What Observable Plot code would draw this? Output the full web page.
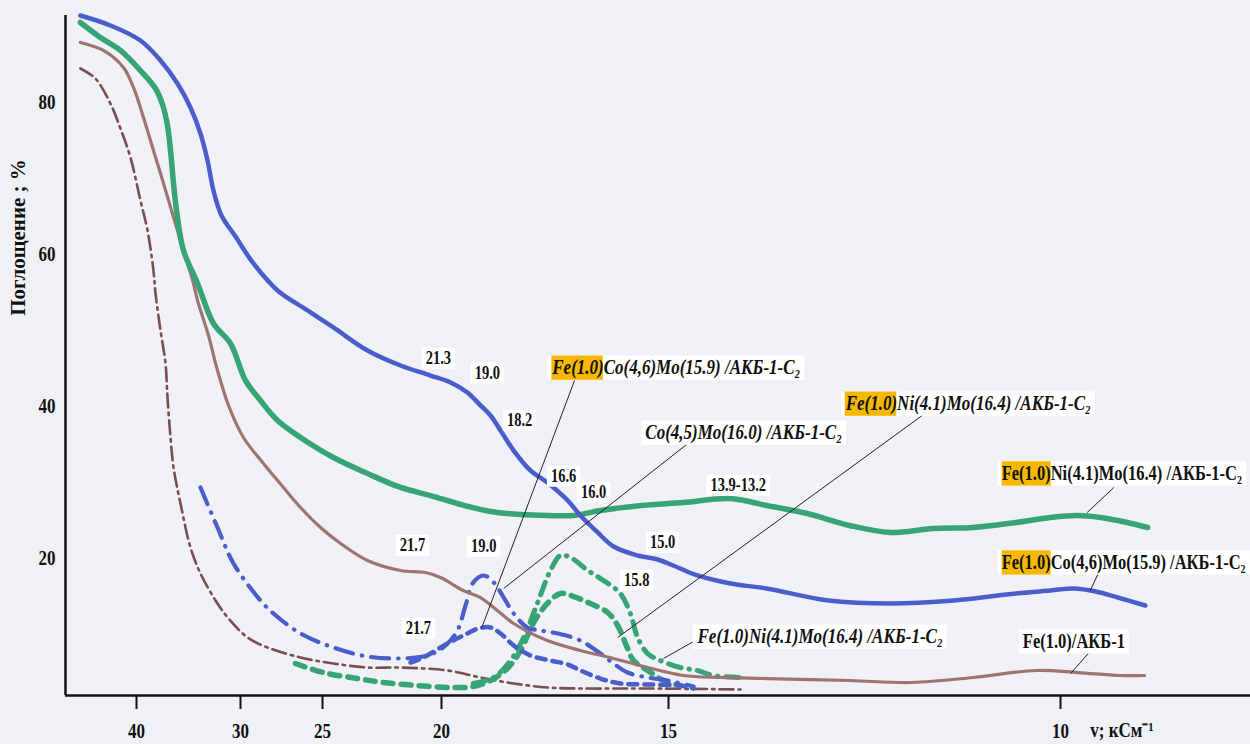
<!DOCTYPE html>
<html><head><meta charset="utf-8">
<script src="https://cdn.jsdelivr.net/npm/d3@7"></script>
<script src="https://cdn.jsdelivr.net/npm/@observablehq/plot@0.6"></script>
<style>
html,body{margin:0;padding:0;background:#eff1f6;}
</style></head><body>
<div id="chart"></div>
<script>
// ---- data (x = wavenumber ν, kcm^-1 ; y = absorption, %) ----
const xTicks = [40, 30, 25, 20, 15, 10];
const yTicks = [20, 40, 60, 80];

const blueSolid = [[45.38,91.38],[42.5,90.07],[39.62,88.09],[37.69,85.46],[36.06,82.43],[34.81,79.28],[33.85,75.86],[33.17,72.3],[32.6,68.36],[31.83,65.07],[30.48,62.3],[29.21,58.75],[27.74,55.2],[25.91,52.57],[24.54,50.33],[23.11,47.3],[21.72,45.33],[20.46,44.01],[19.8,43.09],[19.43,41.78],[19.14,40.07],[18.92,38.75],[18.7,36.78],[18.41,34.14],[18.04,31.51],[17.67,29.93],[17.22,27.57],[16.94,25.59],[16.56,23.36],[16.21,21.51],[15.68,20.33],[15.24,19.8],[14.94,19.01],[14.63,17.7],[14.21,16.64],[13.75,15.99],[12.96,14.41],[12.17,14.01],[11.36,14.41],[10.57,15.33],[10.13,15.72],[9.83,15.99],[9.55,15.59],[9.27,14.8],[8.92,13.75]];

const greenSolid = [[45.38,90.46],[43.46,88.49],[41.54,86.78],[39.62,84.14],[38.17,81.78],[37.5,79.67],[37.02,76.91],[36.73,73.62],[36.44,69.28],[36.06,64.8],[35.48,60.46],[34.13,56.12],[32.6,50.86],[30.96,48.22],[29.7,43.36],[28.78,40.72],[27.74,38.09],[26.34,35.86],[24.54,33.22],[23.11,31.12],[21.72,29.28],[20.46,28.22],[19.58,27.04],[18.92,26.12],[18.26,25.72],[17.67,25.59],[17.09,25.59],[16.5,26.25],[15.59,26.91],[14.81,27.3],[14.22,27.83],[13.75,26.91],[13.23,25.86],[12.69,24.28],[12.17,23.36],[11.63,23.88],[11.11,24.01],[10.57,24.67],[10.13,25.33],[9.78,25.59],[9.49,25.33],[9.15,24.67],[8.89,24.01]];

const brownSolid = [[45.38,87.83],[43.17,86.78],[41.25,84.54],[40.29,81.91],[39.33,77.96],[38.37,73.62],[37.4,69.28],[36.44,64.8],[35.48,60.46],[34.52,56.12],[34.13,53.88],[33.08,49.28],[32.21,44.67],[31.15,40.07],[29.82,35.86],[28.6,32.43],[27.38,29.28],[26.34,26.64],[25.12,24.01],[24.24,21.91],[23.11,19.67],[21.72,18.36],[20.67,18.09],[20.04,17.43],[19.52,15.72],[19.14,14.8],[18.77,13.09],[18.41,11.38],[17.67,9.14],[16.94,7.83],[16.21,6.78],[15.46,5.59],[14.81,4.54],[14.34,4.28],[13.75,4.14],[12.69,3.88],[11.9,3.62],[11.11,4.28],[10.31,5.2],[9.78,4.93],[9.25,4.54],[8.93,4.54]];

const brownDashDot = [[45.38,84.41],[43.94,83.09],[42.5,79.8],[41.54,76.51],[40.58,72.7],[39.62,67.04],[38.94,63.09],[38.37,57.83],[38.17,54.8],[37.69,49.93],[37.21,45.59],[37.02,41.12],[36.73,35.86],[36.44,31.91],[35.77,27.17],[34.81,21.38],[33.85,17.96],[32.4,14.41],[31.15,12.04],[29.57,9.54],[28.35,8.22],[26.34,6.91],[24.54,6.12],[23.11,5.59],[21.72,5.59],[19.87,5.2],[19.14,4.28],[18.41,3.49],[17.67,2.96],[16.94,2.83],[15.46,2.83],[14.08,2.7]];

const blueDashDot = [[33.85,29.28],[32.21,24.01],[30.67,19.28],[28.78,14.41],[27.99,12.7],[26.34,10.07],[24.54,8.22],[23.11,7.04],[21.72,6.78],[20.59,7.17],[19.91,8.49],[19.65,10.46],[19.47,13.75],[19.3,16.78],[19.07,17.7],[18.85,16.78],[18.63,14.8],[18.41,12.7],[18.11,10.86],[17.82,10.46],[17.44,10.07],[16.94,9.14],[16.5,7.43],[16.21,6.12],[15.9,4.93],[15.46,4.28],[15.02,3.88],[14.68,3.09]];

const blueDashed = [[21.3,6.25],[20.76,6.91],[19.87,8.75],[19.52,9.8],[19.19,10.72],[18.92,10.86],[18.7,10.07],[18.41,8.49],[18.04,7.17],[17.6,6.51],[17.22,5.99],[16.94,5.2],[16.5,4.14],[16.06,3.49],[15.46,3.36],[14.85,3.22],[14.68,2.83]];

const greenDashed = [[26.65,6.12],[24.96,4.93],[23.53,4.14],[22.44,3.62],[21.01,3.22],[19.8,2.96],[19.3,3.09],[18.92,3.88],[18.55,5.46],[18.26,7.83],[17.97,11.51],[17.67,14.01],[17.38,15.33],[17.09,14.93],[16.72,14.01],[16.34,12.83],[16.12,11.12],[15.9,8.09],[15.77,6.51],[15.46,5.2],[15.11,3.88],[14.85,3.22]];

const greenDashDot = [[19.3,3.49],[18.85,4.28],[18.48,6.51],[18.19,9.54],[17.89,14.01],[17.6,18.36],[17.38,20.33],[17.16,20.07],[16.78,18.36],[16.43,17.04],[16.06,15.33],[15.84,12.7],[15.68,9.54],[15.46,7.43],[15.18,6.51],[14.85,5.59],[14.63,5.2],[14.43,4.54],[14.08,4.28]];

const numberLabels = [
  {text:"21.3", v:20.13, y:46.25},
  {text:"19.0", v:18.99, y:44.28},
  {text:"18.2", v:18.28, y:38.09},
  {text:"16.6", v:17.31, y:30.72},
  {text:"16.0", v:16.65, y:28.62},
  {text:"13.9-13.2", v:14.11, y:29.54},
  {text:"15.0", v:15.13, y:22.04},
  {text:"15.8", v:15.7, y:17.04},
  {text:"21.7", v:21.22, y:21.64},
  {text:"19.0", v:19.07, y:21.51},
  {text:"21.7", v:20.97, y:10.72}
];

const italicHlLabels = [
  {text:"Fe(1.0)Co(4,6)Mo(15.9) /АКБ-1-C₂", v:17.56, y:45.07},
  {text:"Fe(1.0)Ni(4.1)Mo(16.4) /АКБ-1-C₂", v:12.74, y:40.33}
];
const italicPlainLabels = [
  {text:"Co(4,5)Mo(16.0) /АКБ-1-C₂", v:15.51, y:36.51},
  {text:"Fe(1.0)Ni(4.1)Mo(16.4) /АКБ-1-C₂", v:14.63, y:9.67}
];
const uprightHlLabels = [
  {text:"Fe(1.0)Ni(4.1)Mo(16.4) /АКБ-1-C₂", v:10.75, y:31.12},
  {text:"Fe(1.0)Co(4,6)Mo(15.9) /АКБ-1-C₂", v:10.75, y:19.41}
];
const uprightPlainLabels = [
  {text:"Fe(1.0)/АКБ-1", v:10.48, y:9.01}
];

const leaders = [
  {v1:17.07, y1:43.36, v2:19.12, y2:10.72},
  {v1:14.72, y1:35.33, v2:18.63, y2:15.99},
  {v1:11.73, y1:39.01, v2:16.12, y2:9.54},
  {v1:14.59, y1:9.54,  v2:15.11, y2:6.78},
  {v1:9.32,  y1:29.28, v2:9.66,  y2:25.99},
  {v1:9.52,  y1:17.96, v2:9.62,  y2:15.72},
  {v1:9.58,  y1:8.22,  v2:9.87,  y2:4.8}
];

const yAxisTitle = [{text:"Поглощение ; %", y:62.17}];
const xAxisTitle = [{text:"v; кСм⁻¹", v:9.62, y:-2.7}];

// ---- chart ----
const serif = "'Liberation Serif', 'Times New Roman', serif";
const BLUE = "#4a5dcb", GREEN = "#36a474", BROWN = "#9e7470", BROWN_D = "#7a4e4c";
const X = d => d[0], Y = d => d[1];
const yMin = 1.908, yMax = 91.38;

const lines = [
  Plot.line(brownDashDot, {x:X, y:Y, stroke:BROWN_D, strokeWidth:2.6, strokeDasharray:"14,5,2.5,5", curve:"catmull-rom"}),
  Plot.line(greenDashed, {x:X, y:Y, stroke:GREEN, strokeWidth:5.5, strokeDasharray:"10,8", strokeLinecap:"round", curve:"catmull-rom"}),
  Plot.line(greenDashDot, {x:X, y:Y, stroke:GREEN, strokeWidth:5, strokeDasharray:"13,8,0.5,8", strokeLinecap:"round", curve:"catmull-rom"}),
  Plot.line(blueDashDot, {x:X, y:Y, stroke:BLUE, strokeWidth:4.2, strokeDasharray:"18,9,0.5,9", strokeLinecap:"round", curve:"catmull-rom"}),
  Plot.line(blueDashed, {x:X, y:Y, stroke:BLUE, strokeWidth:4.5, strokeDasharray:"9,7", strokeLinecap:"round", curve:"catmull-rom"}),
  Plot.line(brownSolid, {x:X, y:Y, stroke:BROWN, strokeWidth:3.2, curve:"catmull-rom"}),
  Plot.line(greenSolid, {x:X, y:Y, stroke:GREEN, strokeWidth:5.5, curve:"catmull-rom"}),
  Plot.line(blueSolid, {x:X, y:Y, stroke:BLUE, strokeWidth:4.5, curve:"catmull-rom"})
];

const txt = {fill:"#111", fontFamily:serif, fontWeight:"bold"};

const svg = Plot.plot({
  width:1250, height:744,
  marginLeft:65, marginRight:0, marginTop:15, marginBottom:49,
  style:{background:"#eff1f6", fontFamily:serif, overflow:"visible"},
  x:{type:"linear", domain:[46.8,40,30,25,20,15,10,7.58], range:[65,136,240,322,441,668,1060,1250]},
  y:{type:"linear", domain:[yMin, yMax]},
  marks:[
    ...lines,
    Plot.ruleY([yMin], {stroke:"#111", strokeWidth:2.5}),
    Plot.ruleX([46.8], {stroke:"#111", strokeWidth:2.5}),
    Plot.axisX(xTicks, {tickSize:14, tickPadding:13, stroke:"#111", strokeWidth:2, fontSize:17, ...txt, label:null, tickFormat:d => String(d)}),
    Plot.axisY(yTicks, {tickSize:0, tickPadding:10, fontSize:17, ...txt, label:null, tickFormat:d => String(d)}),
    Plot.link(leaders, {x1:"v1", y1:"y1", x2:"v2", y2:"y2", stroke:"#222", strokeWidth:1}),
    Plot.text(numberLabels, {x:"v", y:"y", text:"text", fontSize:14.5, ...txt}),
    Plot.text(italicHlLabels, {x:"v", y:"y", text:"text", fontSize:17, fontStyle:"italic", textAnchor:"start", ...txt}),
    Plot.text(italicPlainLabels, {x:"v", y:"y", text:"text", fontSize:17, fontStyle:"italic", textAnchor:"start", ...txt}),
    Plot.text(uprightHlLabels, {x:"v", y:"y", text:"text", fontSize:16.5, textAnchor:"start", ...txt}),
    Plot.text(uprightPlainLabels, {x:"v", y:"y", text:"text", fontSize:16.5, textAnchor:"start", ...txt}),
    Plot.text(yAxisTitle, {frameAnchor:"left", y:"y", text:"text", rotate:-90, dx:-47, textAnchor:"middle", fontSize:21, ...txt}),
    Plot.text(xAxisTitle, {x:"v", y:"y", text:"text", textAnchor:"start", fontSize:17, ...txt})
  ]
});
document.getElementById("chart").append(svg);

// cosmetic: tall, narrow scan-like lettering; white paper boxes and orange highlight behind labels
const NS = "http://www.w3.org/2000/svg";
svg.querySelectorAll("text").forEach(t => {
  const tr = t.getAttribute("transform");
  if (tr && tr.startsWith("translate") && !tr.includes("rotate")) t.setAttribute("transform", tr + " scale(1,1.25)");
});
function addBox(g, fill, padX, chars) {
  if (!g) return;
  g.querySelectorAll("text").forEach(t => {
    const b = t.getBBox();
    const w = chars ? t.getSubStringLength(0, chars) : b.width;
    const r = document.createElementNS(NS, "rect");
    r.setAttribute("x", b.x - padX);
    r.setAttribute("y", b.y);
    r.setAttribute("width", w + 2 * padX);
    r.setAttribute("height", b.height);
    r.setAttribute("fill", fill);
    r.setAttribute("stroke", "none");
    const tr = t.getAttribute("transform");
    if (tr) r.setAttribute("transform", tr);
    t.parentNode.insertBefore(r, t);
  });
}
const textGroups = Array.from(svg.querySelectorAll('g[aria-label="text"]'));
// order: numbers, italic hl, italic plain, upright hl, upright plain, titles
[0, 1, 2, 3, 4].forEach(i => addBox(textGroups[i], "#ffffff", 4, 0));
[1, 3].forEach(i => addBox(textGroups[i], "#f6b800", 0, 7));
</script>
</body></html>
